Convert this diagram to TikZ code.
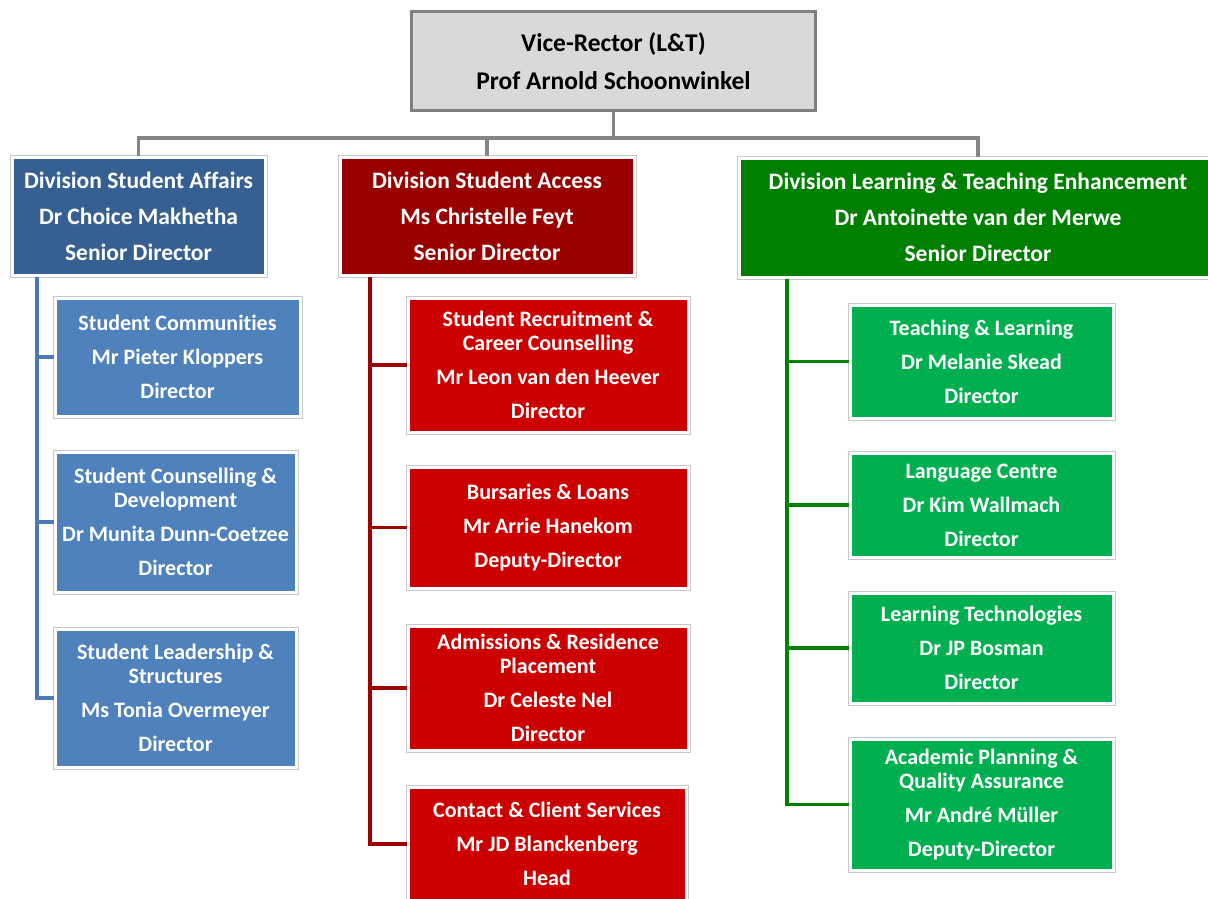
\documentclass[tikz,border=0pt]{standalone}
\usepackage{fontspec}
\setmainfont{Carlito}[Ligatures=NoCommon]
\definecolor{vrfill}{HTML}{D9D9D9}
\definecolor{vrline}{HTML}{7F7F7F}
\definecolor{divblue}{HTML}{376092}
\definecolor{divred}{HTML}{990000}
\definecolor{divgreen}{HTML}{008000}
\definecolor{subblue}{HTML}{4F81BD}
\definecolor{subred}{HTML}{CC0000}
\definecolor{subgreen}{HTML}{00B050}
\definecolor{framegray}{HTML}{C8C8C8}
\definecolor{bluewire}{HTML}{4A7AB8}
\definecolor{redwire}{HTML}{A00000}
\tikzset{
  x=1pt, y=-1pt,
  unit/.style={rectangle, inner sep=0pt, align=center, text=white,
    preaction={draw=framegray, line width=5pt},
    draw=white, line width=3pt},
  divbox/.style={unit, font=\bfseries\fontsize{23.5}{24}\selectfont},
  subbox/.style={unit, font=\bfseries\fontsize{22}{24}\selectfont},
  topbox/.style={rectangle, inner sep=0pt, align=center, text=black,
    font=\bfseries\fontsize{25.5}{38}\selectfont,
    fill=vrfill, draw=vrline, line width=3pt},
  link/.style={line width=3.2pt},
  graylink/.style={link, line width=3.6pt, draw=vrline!95},
  bluelink/.style={link, draw=bluewire},
  redlink/.style={link, draw=redwire},
  greenlink/.style={link, draw=divgreen},
}
\begin{document}
\begin{tikzpicture}
\clip (0,0) rectangle (1208,898);
\fill[white] (0,0) rectangle (1208,898);

% Vice-Rector
\node[topbox, minimum width=404pt, minimum height=99pt] (vr) at (613.5,61)
  {Vice-Rector (L\&T)\\Prof Arnold Schoonwinkel};

% Divisions
\node[divbox, fill=divblue, minimum width=253pt, minimum height=118pt] (sa) at (138.5,216.5)
  {Division Student Affairs\\[12pt]Dr Choice Makhetha\\[12pt]Senior Director};
\node[divbox, fill=divred, minimum width=294pt, minimum height=118pt] (acc) at (487,216.5)
  {Division Student Access\\[12pt]Ms Christelle Feyt\\[12pt]Senior Director};
\node[divbox, fill=divgreen, minimum width=478pt, minimum height=119pt] (lte) at (978,217.5)
  {Division Learning \& Teaching Enhancement\\[12pt]Dr Antoinette van der Merwe\\[12pt]Senior Director};

% Student Affairs units
\node[subbox, fill=subblue, minimum width=245pt, minimum height=118pt] (sc) at (177.5,357)
  {Student Communities\\[10pt]Mr Pieter Kloppers\\[10pt]Director};
\node[subbox, fill=subblue, minimum width=241pt, minimum height=140pt] (scd) at (175.5,522)
  {Student Counselling \&\\Development\\[10pt]Dr Munita Dunn-Coetzee\\[10pt]Director};
\node[subbox, fill=subblue, minimum width=241pt, minimum height=138pt] (sls) at (175.5,698)
  {Student Leadership \&\\Structures\\[10pt]Ms Tonia Overmeyer\\[10pt]Director};

% Student Access units
\node[subbox, fill=subred, minimum width=280pt, minimum height=134pt] (rec) at (548,365)
  {Student Recruitment \&\\Career Counselling\\[10pt]Mr Leon van den Heever\\[10pt]Director};
\node[subbox, fill=subred, minimum width=280pt, minimum height=121pt] (bur) at (548,527.5)
  {Bursaries \& Loans\\[10pt]Mr Arrie Hanekom\\[10pt]Deputy-Director};
\node[subbox, fill=subred, minimum width=280pt, minimum height=124pt] (adm) at (548,688)
  {Admissions \& Residence\\Placement\\[10pt]Dr Celeste Nel\\[10pt]Director};
\node[subbox, fill=subred, minimum width=278pt, minimum height=114pt] (con) at (547,844)
  {Contact \& Client Services\\[10pt]Mr JD Blanckenberg\\[10pt]Head};

% Learning & Teaching Enhancement units
\node[subbox, fill=subgreen, minimum width=263pt, minimum height=113pt] (tl) at (981.5,361.5)
  {Teaching \& Learning\\[10pt]Dr Melanie Skead\\[10pt]Director};
\node[subbox, fill=subgreen, minimum width=263pt, minimum height=104pt] (lc) at (981.5,505)
  {Language Centre\\[10pt]Dr Kim Wallmach\\[10pt]Director};
\node[subbox, fill=subgreen, minimum width=263pt, minimum height=110pt] (lt) at (981.5,648)
  {Learning Technologies\\[10pt]Dr JP Bosman\\[10pt]Director};
\node[subbox, fill=subgreen, minimum width=263pt, minimum height=131pt] (apq) at (981.5,804.5)
  {Academic Planning \&\\Quality Assurance\\[10pt]Mr Andr\'e M\"uller\\[10pt]Deputy-Director};

% Reporting lines from the Vice-Rector
\coordinate (bus) at (0,138);
\draw[graylink] (vr.south) -- (vr.south |- bus);
\draw[graylink] (sa.north) |- (lte.north |- bus) -- (lte.north);
\draw[graylink] (acc.north) -- (acc.north |- bus);

% Division stems
\coordinate (saStem) at (37,0);
\coordinate (accStem) at (370,0);
\coordinate (lteStem) at (787,0);
\draw[bluelink] (sa.south -| saStem) |- (sls.west);
\draw[bluelink] (sa.south -| saStem) |- (sc.west);
\draw[bluelink] (sa.south -| saStem) |- (scd.west);
\draw[redlink] (acc.south -| accStem) |- (con.west);
\draw[redlink] (acc.south -| accStem) |- (rec.west);
\draw[redlink] (acc.south -| accStem) |- (bur.west);
\draw[redlink] (acc.south -| accStem) |- (adm.west);
\draw[greenlink] (lte.south -| lteStem) |- (apq.west);
\draw[greenlink] (lte.south -| lteStem) |- (tl.west);
\draw[greenlink] (lte.south -| lteStem) |- (lc.west);
\draw[greenlink] (lte.south -| lteStem) |- (lt.west);
\end{tikzpicture}
\end{document}
